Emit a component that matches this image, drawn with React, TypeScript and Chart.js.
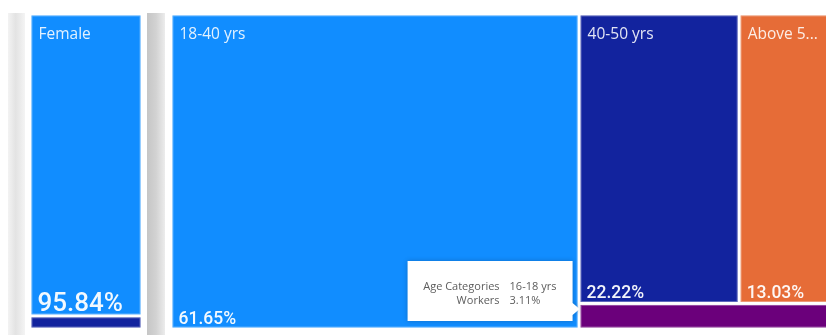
import React, { useEffect, useRef } from "react";
import { Chart, registerables } from "chart.js";

Chart.register(...registerables);

// ---- Data ----
const genderCategories = ["Female", "Male"];
const genderWorkers = [95.84, 4.16];

const ageCategories = ["18-40 yrs", "40-50 yrs", "Above 50 yrs", "16-18 yrs"];
const ageWorkers = [61.65, 22.22, 13.03, 3.11];

const hoveredAge = "16-18 yrs";
const tooltipFields = ["Age Categories", "Workers"];

// ---- Styles ----
const palette = ["#118DFF", "#12239E", "#E66C37", "#6B007B"];

type Cell = { i: number; x0: number; y0: number; x1: number; y1: number };

// d3-style squarified treemap (golden ratio)
function squarify(values: number[], x0: number, y0: number, x1: number, y1: number): Cell[] {
  const ratio = (1 + Math.sqrt(5)) / 2;
  const nodes = values.map((v, i) => ({ v, i })).sort((a, b) => b.v - a.v);
  const out: Cell[] = [];
  let value = nodes.reduce((s, n) => s + n.v, 0);
  let i0 = 0;
  let i1 = 0;
  const n = nodes.length;
  while (i0 < n) {
    const dx = x1 - x0;
    const dy = y1 - y0;
    let sumValue = nodes[i1++].v;
    let minValue = sumValue;
    let maxValue = sumValue;
    const alpha = Math.max(dy / dx, dx / dy) / (value * ratio);
    let beta = sumValue * sumValue * alpha;
    let minRatio = Math.max(maxValue / beta, beta / minValue);
    for (; i1 < n; ++i1) {
      const nv = nodes[i1].v;
      sumValue += nv;
      if (nv < minValue) minValue = nv;
      if (nv > maxValue) maxValue = nv;
      beta = sumValue * sumValue * alpha;
      const newRatio = Math.max(maxValue / beta, beta / minValue);
      if (newRatio > minRatio) {
        sumValue -= nv;
        break;
      }
      minRatio = newRatio;
    }
    const row = nodes.slice(i0, i1);
    if (dx < dy) {
      const ny = i1 >= n ? y1 : y0 + (dy * sumValue) / value;
      let x = x0;
      row.forEach((r) => {
        const w = ((x1 - x0) * r.v) / sumValue;
        out.push({ i: r.i, x0: x, y0: y0, x1: x + w, y1: ny });
        x += w;
      });
      y0 = ny;
    } else {
      const nx = i1 >= n ? x1 : x0 + (dx * sumValue) / value;
      let y = y0;
      row.forEach((r) => {
        const h = ((y1 - y0) * r.v) / sumValue;
        out.push({ i: r.i, x0: x0, y0: y, x1: nx, y1: y + h });
        y += h;
      });
      x0 = nx;
    }
    value -= sumValue;
    i0 = i1;
  }
  return out;
}

function fitText(ctx: CanvasRenderingContext2D, text: string, avail: number) {
  if (ctx.measureText(text).width <= avail) return text;
  let t = text;
  while (t.length > 1 && ctx.measureText(t + "...").width > avail) t = t.slice(0, -1);
  return t.trimEnd() + "...";
}

type TreemapProps = {
  width: number;
  height: number;
  left: number;
  top: number;
  categories: string[];
  values: number[];
  valueFontSize: number;
  hovered?: string;
};

function Treemap(props: TreemapProps) {
  const ref = useRef<HTMLCanvasElement>(null);
  useEffect(() => {
    const { categories, values, valueFontSize, hovered } = props;
    const plugin = {
      id: "treemapCells",
      afterDatasetsDraw(chart: any) {
        const ctx: CanvasRenderingContext2D = chart.ctx;
        const xs = chart.scales.x;
        const ys = chart.scales.y;
        const cells = squarify(values, xs.min, ys.min, xs.max, ys.max);
        const gap = 1.5;
        ctx.save();
        const pix = cells.map((c) => {
          const a = xs.getPixelForValue(c.x0);
          const b = xs.getPixelForValue(c.x1);
          const p = ys.getPixelForValue(c.y0);
          const q = ys.getPixelForValue(c.y1);
          return {
            i: c.i,
            l: Math.min(a, b) + gap,
            r: Math.max(a, b) - gap,
            t: Math.min(p, q) + gap,
            b: Math.max(p, q) - gap,
          };
        });
        pix.forEach((c) => {
          ctx.fillStyle = palette[c.i % palette.length];
          ctx.fillRect(c.l, c.t, c.r - c.l, c.b - c.t);
          ctx.strokeStyle = "rgba(255,255,255,0.3)";
          ctx.lineWidth = 1;
          ctx.strokeRect(c.l + 0.5, c.t + 0.5, c.r - c.l - 1, c.b - c.t - 1);
        });
        pix.forEach((c) => {
          const w = c.r - c.l;
          const h = c.b - c.t;
          if (h >= 30 && w >= 40) {
            ctx.font = '15.5px "Open Sans"';
            ctx.fillStyle = "rgba(255,255,255,0.88)";
            ctx.textAlign = "left";
            ctx.textBaseline = "alphabetic";
            ctx.fillText(fitText(ctx, categories[c.i], w - 14), c.l + 7, c.t + 23);
          }
          if (h >= 45 && w >= 40) {
            ctx.font = `500 ${valueFontSize}px Roboto`;
            ctx.fillStyle = "rgba(255,255,255,0.95)";
            ctx.textAlign = "left";
            ctx.textBaseline = "alphabetic";
            ctx.fillText(values[c.i].toFixed(2) + "%", c.l + 6, c.b - 3.5);
          }
        });
        if (hovered) {
          const hi = categories.indexOf(hovered);
          const c = pix.find((p) => p.i === hi);
          if (c) {
            const ax = c.l - 1;
            const ay = c.t + 4;
            const bw = 165;
            const bh = 60;
            const br = ax - 7;
            const bl = br - bw;
            const bt = ay - 48;
            ctx.save();
            ctx.shadowColor = "rgba(0,0,0,0.22)";
            ctx.shadowBlur = 5;
            ctx.fillStyle = "#ffffff";
            ctx.beginPath();
            ctx.moveTo(bl, bt);
            ctx.lineTo(br, bt);
            ctx.lineTo(br, ay - 6);
            ctx.lineTo(ax, ay);
            ctx.lineTo(br, ay + 6);
            ctx.lineTo(br, bt + bh);
            ctx.lineTo(bl, bt + bh);
            ctx.closePath();
            ctx.fill();
            ctx.restore();
            ctx.font = '11px "Open Sans"';
            ctx.fillStyle = "#5c5c5c";
            ctx.textBaseline = "alphabetic";
            ctx.textAlign = "right";
            ctx.fillText(tooltipFields[0], bl + 92, bt + 29);
            ctx.fillText(tooltipFields[1], bl + 92, bt + 43);
            ctx.textAlign = "left";
            ctx.fillText(categories[hi], bl + 102, bt + 29);
            ctx.fillText(values[hi].toFixed(2) + "%", bl + 102, bt + 43);
          }
        }
        ctx.restore();
      },
    };
    const chart = new Chart(ref.current as HTMLCanvasElement, {
      type: "scatter",
      data: { datasets: [{ data: [] }] },
      options: {
        responsive: false,
        animation: false,
        devicePixelRatio: 1,
        layout: { padding: 0 },
        scales: {
          x: { type: "linear", min: 0, max: props.width / props.height, display: false },
          y: { type: "linear", min: 0, max: 1, reverse: true, display: false },
        },
        plugins: { legend: { display: false }, tooltip: { enabled: false } },
      },
      plugins: [plugin],
    });
    return () => chart.destroy();
  }, []);
  return (
    <canvas
      ref={ref}
      width={props.width}
      height={props.height}
      style={{ position: "absolute", left: props.left, top: props.top, width: props.width, height: props.height }}
    />
  );
}

export default function App() {
  return (
    <div
      style={{
        position: "fixed",
        left: 0,
        top: 0,
        width: 826,
        height: 335,
        background: "#ffffff",
        overflow: "hidden",
      }}
    >
      <div
        style={{
          position: "absolute",
          left: 8,
          top: 13,
          width: 17,
          height: 322,
          background: "linear-gradient(to right, #f3f3f3, #e3e3e3 45%, #f4f4f4)",
        }}
      />
      <div
        style={{
          position: "absolute",
          left: 147,
          top: 13,
          width: 18,
          height: 322,
          background: "linear-gradient(to right, #c6c6c6, #d2d2d2 50%, #ececec)",
        }}
      />
      <Treemap
        left={30}
        top={14}
        width={112}
        height={315}
        categories={genderCategories}
        values={genderWorkers}
        valueFontSize={26}
      />
      <Treemap
        left={171}
        top={14}
        width={662}
        height={315}
        categories={ageCategories}
        values={ageWorkers}
        valueFontSize={17.5}
        hovered={hoveredAge}
      />
    </div>
  );
}
